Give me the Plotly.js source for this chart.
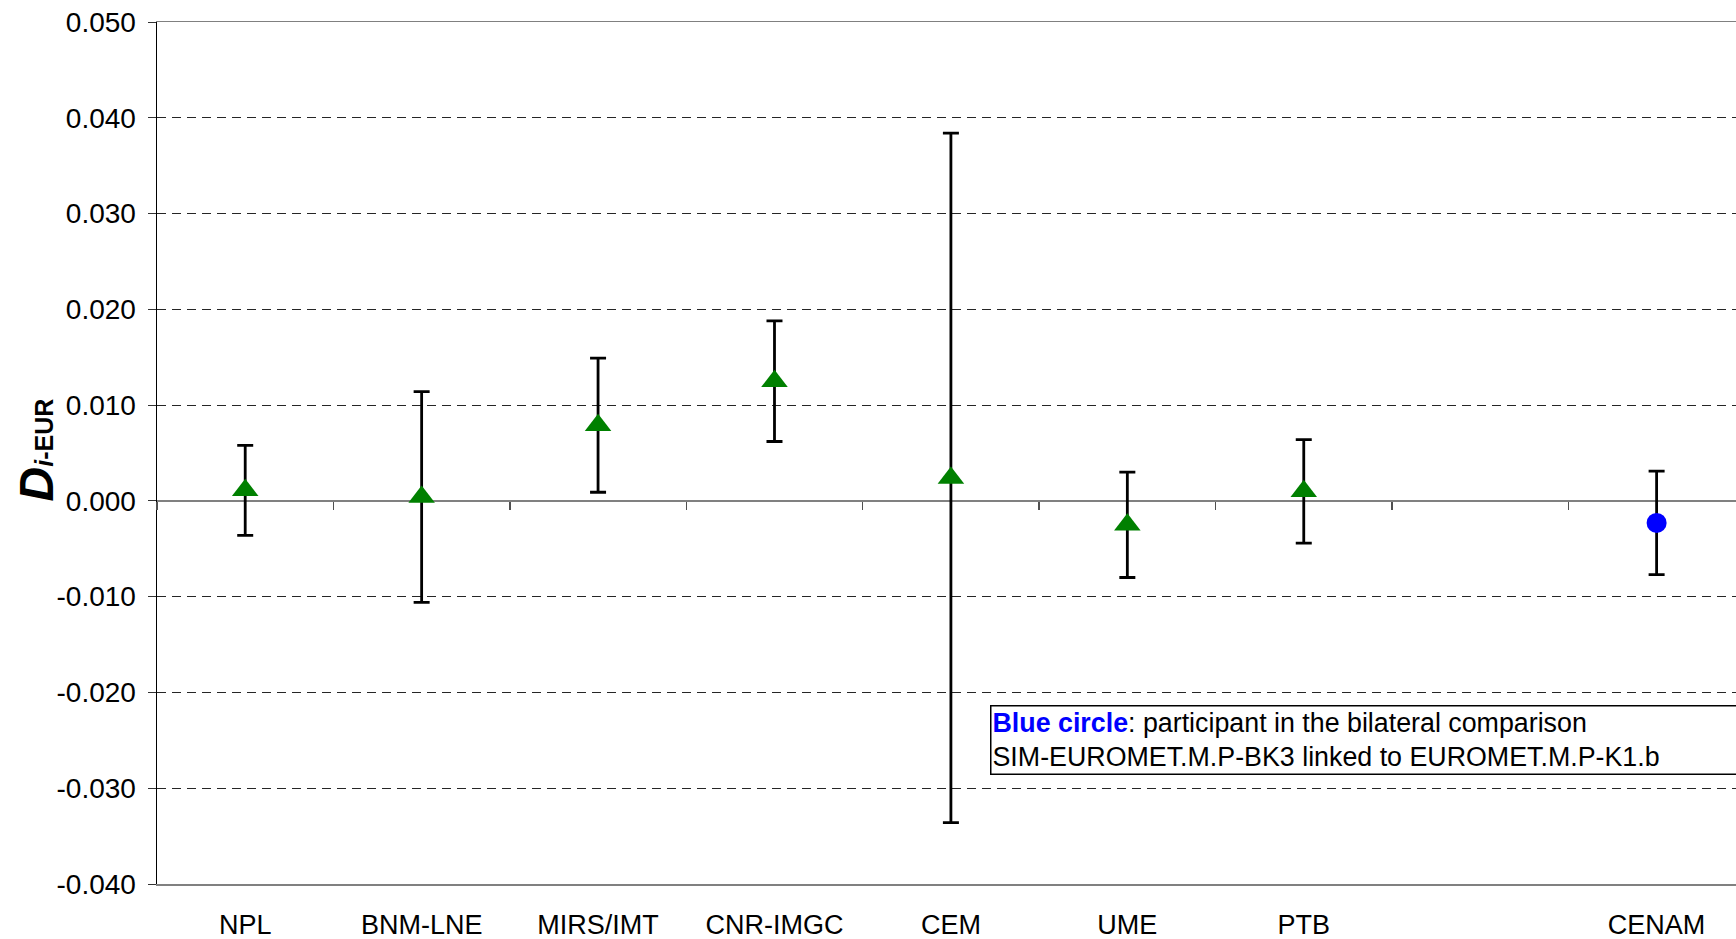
<!DOCTYPE html>
<html>
<head>
<meta charset="utf-8">
<script src="https://cdn.plot.ly/plotly-3.0.1.min.js"></script>
<style>
  html, body { margin: 0; padding: 0; overflow: hidden; background: #fff; }
  #chart { width: 1736px; height: 939px; }
</style>
</head>
<body>
<div id="chart"></div>
<script>
// Category axis (one empty slot before CENAM)
const categories = ['NPL', 'BNM-LNE', 'MIRS/IMT', 'CNR-IMGC', 'CEM', 'UME', 'PTB', ' ', 'CENAM'];

// EUROMET.M.P-K1.b participants (green triangles)
const euroLabs   = ['NPL', 'BNM-LNE', 'MIRS/IMT', 'CNR-IMGC', 'CEM', 'UME', 'PTB'];
const euroValues = [0.0011, 0.0004, 0.0079, 0.0125, 0.0024, -0.0025, 0.0010];
const euroUnc    = [0.0047, 0.0110, 0.0070, 0.0063, 0.0360, 0.0055, 0.0054];

// Bilateral comparison participant (blue circle)
const bilatLabs   = ['CENAM'];
const bilatValues = [-0.0023];
const bilatUnc    = [0.0054];

// y-axis ticks (labels use a plain hyphen as in the reference)
const yTickVals = [-0.04, -0.03, -0.02, -0.01, 0, 0.01, 0.02, 0.03, 0.04, 0.05];
const yTickText = yTickVals.map(v => v.toFixed(3));

const FONT = 'Liberation Sans, Arial, sans-serif';

const errStyle = { type: 'data', visible: true, color: '#000000', thickness: 2.8, width: 8 };

const traces = [
  {
    type: 'scatter', mode: 'markers',
    x: euroLabs, y: euroValues,
    error_y: Object.assign({ array: euroUnc }, errStyle),
    marker: { symbol: 'triangle-up', size: 23, color: '#008000' },
    xaxis: 'x', yaxis: 'y', showlegend: false, hoverinfo: 'x+y'
  },
  {
    type: 'scatter', mode: 'markers',
    x: bilatLabs, y: bilatValues,
    error_y: Object.assign({ array: bilatUnc }, errStyle),
    marker: { symbol: 'circle', size: 20, color: '#0000FF' },
    xaxis: 'x', yaxis: 'y', showlegend: false, hoverinfo: 'x+y'
  },
  {
    // empty helper trace so the tick-only axis on the zero line is created
    type: 'scatter', mode: 'markers',
    x: categories.map((c, i) => i), y: categories.map(() => null),
    xaxis: 'x2', yaxis: 'y', showlegend: false, hoverinfo: 'skip',
    marker: { opacity: 0 }
  }
];

const layout = {
  width: 1736, height: 939,
  margin: { l: 157, r: 0, t: 22, b: 55 },
  paper_bgcolor: '#ffffff', plot_bgcolor: '#ffffff',
  font: { family: FONT, color: '#000000', size: 27 },
  xaxis: {
    type: 'category',
    categoryorder: 'array', categoryarray: categories,
    range: [-0.5, 8.45],
    showgrid: false, zeroline: false,
    showline: true, linecolor: '#808080', linewidth: 1.5, mirror: true,
    ticks: 'outside', ticklen: 16, tickcolor: 'rgba(0,0,0,0)',
    tickfont: { family: FONT, size: 27, color: '#000' },
    fixedrange: true
  },
  xaxis2: {
    type: 'linear', overlaying: 'x', anchor: 'free', side: 'bottom',
    position: 0.4 / 0.9,
    range: [-0.5, 8.45],
    tickmode: 'linear', tick0: -0.5, dtick: 1,
    ticks: 'outside', ticklen: 8, tickwidth: 1.5, tickcolor: '#505050',
    showticklabels: false, showgrid: false, zeroline: false, showline: false,
    fixedrange: true
  },
  yaxis: {
    range: [-0.04, 0.05],
    tickmode: 'array', tickvals: yTickVals, ticktext: yTickText,
    tickfont: { family: FONT, size: 28, color: '#000' },
    ticks: 'outside', ticklen: 8, tickcolor: '#333', tickwidth: 1,
    ticklabelstandoff: 6,
    showline: true, linecolor: '#000000', linewidth: 1.5,
    showgrid: true, gridcolor: '#262626', gridwidth: 1, griddash: '9px,6px',
    zeroline: true, zerolinecolor: '#808080', zerolinewidth: 1.5,
    automargin: false,
    fixedrange: true
  },
  annotations: [
    {
      // y-axis title D_i-EUR
      xref: 'paper', yref: 'paper',
      x: (36 - 157) / (1736 - 157), y: 0.503,
      xanchor: 'center', yanchor: 'middle',
      textangle: -90, showarrow: false,
      font: { family: FONT, size: 25, color: '#000' },
      text: '<b><span style="font-size:48px"><i>D</i></span><i>i</i>-EUR</b>'
    },
    {
      xref: 'paper', yref: 'paper',
      x: (990 - 157) / (1736 - 157), y: (884 - 705) / 862,
      xanchor: 'left', yanchor: 'top',
      align: 'left', valign: 'middle',
      width: 820,
      showarrow: false,
      bgcolor: '#ffffff', bordercolor: '#000000', borderwidth: 1.5, borderpad: 1,
      font: { family: FONT, size: 26.8, color: '#000' },
      text: '<b><span style="color:#0000FF">Blue circle</span></b>: participant in the bilateral comparison<br>SIM-EUROMET.M.P-BK3 linked to EUROMET.M.P-K1.b'
    }
  ]
};

Plotly.newPlot('chart', traces, layout, { displayModeBar: false, staticPlot: true });
</script>
</body>
</html>
